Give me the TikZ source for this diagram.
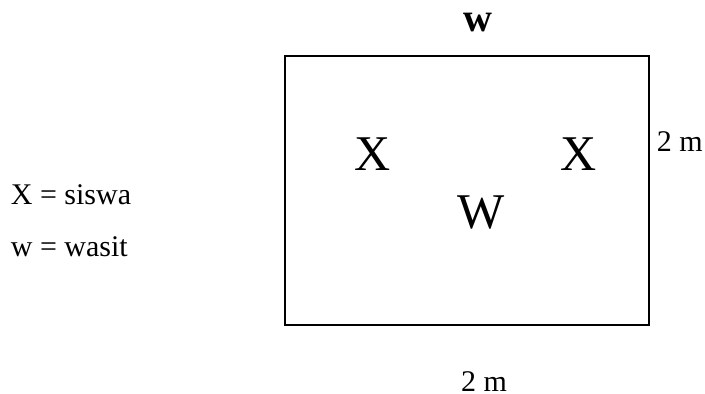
\documentclass[tikz,border=0pt]{standalone}
\usepackage{fontspec}
\setmainfont{Liberation Serif}
\usetikzlibrary{positioning}
\tikzset{
  field/.style  = {rectangle, draw=black, line width=1.6pt, minimum width=364pt,
                   minimum height=269pt, inner sep=0pt},
  lbl/.style    = {inner sep=0pt, anchor=base, font=\fontsize{30}{36}\selectfont},
  player/.style = {inner sep=0pt, anchor=base, font=\fontsize{50}{60}\selectfont},
  referee/.style = {inner sep=0pt, anchor=base, font=\fontsize{40}{48}\selectfont\bfseries},
}

\begin{document}
\begin{tikzpicture}[x=1pt, y=-1pt]
    \useasboundingbox (0,0) rectangle (705,394);
    \node[field] (lap) at (467,190.3) {};
    \node[referee] (wtop) at (478,31.7) {w};
    \node[player] (x1) at (372.7,170.7) {X};
    \node[player] (x2) at (578.3,170.7) {X};
    \node[player] (wmid) at (481,228) {W};
    \node[lbl, anchor=base west] (side) at (656.7,151.7) {2 m};
    \node[lbl] (bottom) at (484,391) {2 m};
    \node[lbl, anchor=base west] (key1) at (10.7,204) {X = siswa};
    \node[lbl, anchor=base west] (key2) at (10.7,256) {w = wasit};
\end{tikzpicture}
\end{document}
